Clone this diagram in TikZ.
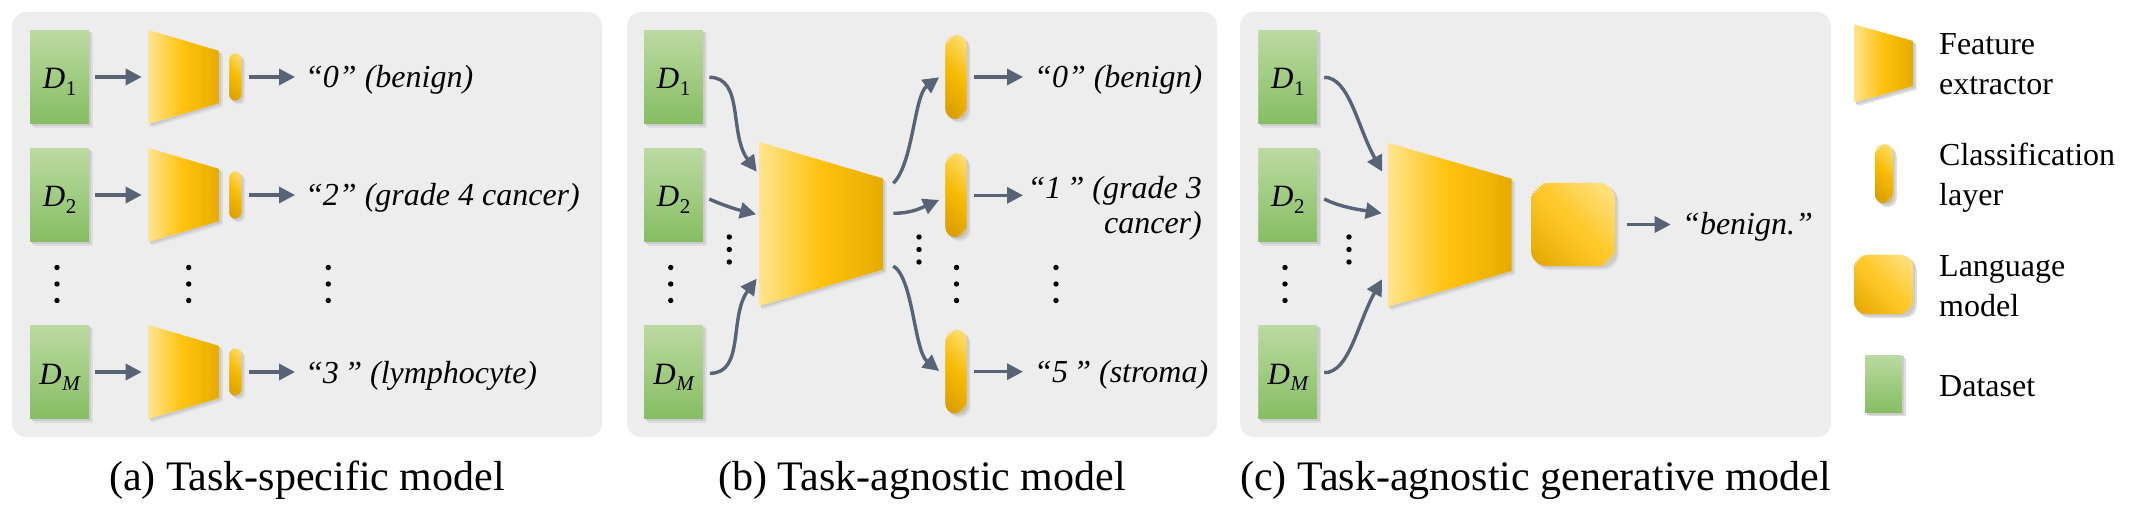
\documentclass[tikz,border=0pt]{standalone}
\usepackage{fontspec}
\setmainfont{Liberation Serif}
\usetikzlibrary{arrows.meta,calc}

\definecolor{panelbg}{RGB}{237,237,237}
\definecolor{gtop}{RGB}{187,218,161}
\definecolor{gbot}{RGB}{135,190,99}
\definecolor{feA}{RGB}{255,228,140}
\definecolor{feB}{RGB}{255,194,14}
\definecolor{feC}{RGB}{231,172,0}
\definecolor{clA}{RGB}{255,226,125}
\definecolor{clB}{RGB}{246,186,0}
\definecolor{clC}{RGB}{214,154,0}
\definecolor{lmA}{RGB}{255,228,140}
\definecolor{lmB}{RGB}{255,200,40}
\definecolor{lmC}{RGB}{228,166,0}
\definecolor{arrc}{RGB}{88,99,118}
\definecolor{shA}{RGB}{203,203,203}
\definecolor{shB}{RGB}{222,222,222}

\pgfdeclarelayer{back}
\pgfdeclarelayer{bg}
\pgfsetlayers{back,bg,main}

% vertical gradient: top colour, bottom colour
\newcommand\vgrad[2]{%
  \foreach \i in {0,...,29}{%
    \pgfmathsetmacro\pp{100*\i/29}%
    \fill[#2!\pp!#1] ($(path picture bounding box.north west)!{\i/30}!(path picture bounding box.south west)$) rectangle ($(path picture bounding box.north east)!{min(1,(\i+1.6)/30)}!(path picture bounding box.south east)$);
  }}
% horizontal 3-stop gradient: left, middle, right
\newcommand\hgrad[3]{%
  \foreach \i in {0,...,19}{%
    \pgfmathsetmacro\pp{100*\i/19}%
    \fill[#2!\pp!#1] ($(path picture bounding box.north west)!{\i/40}!(path picture bounding box.north east)$) rectangle ($(path picture bounding box.south west)!{(\i+1.6)/40}!(path picture bounding box.south east)$);
  }%
  \foreach \i in {0,...,19}{%
    \pgfmathsetmacro\pp{100*\i/19}%
    \fill[#3!\pp!#2] ($(path picture bounding box.north west)!{(\i+20)/40}!(path picture bounding box.north east)$) rectangle ($(path picture bounding box.south west)!{min(1,(\i+21.6)/40)}!(path picture bounding box.south east)$);
  }}
% diagonal 3-stop gradient: light (top right), middle, dark (bottom left), half extent
\newcommand\dgrad[4]{%
  \foreach \i in {0,...,19}{%
    \pgfmathsetmacro\pp{100*\i/19}%
    \pgfmathsetmacro\sa{-#4+#4*\i/20}\pgfmathsetmacro\sb{-#4+#4*(\i+1.6)/20}%
    \pgfmathsetmacro\na{-(\sa)}\pgfmathsetmacro\nb{-(\sb)}%
    \fill[#2!\pp!#3] ($(path picture bounding box.center)+({(\sa-#4)*0.7071},{(\na-#4)*0.7071})$) -- ($(path picture bounding box.center)+({(\sa+#4)*0.7071},{(\na+#4)*0.7071})$) -- ($(path picture bounding box.center)+({(\sb+#4)*0.7071},{(\nb+#4)*0.7071})$) -- ($(path picture bounding box.center)+({(\sb-#4)*0.7071},{(\nb-#4)*0.7071})$) -- cycle;
  }%
  \foreach \i in {0,...,19}{%
    \pgfmathsetmacro\pp{100*\i/19}%
    \pgfmathsetmacro\sa{#4*\i/20}\pgfmathsetmacro\sb{#4*(\i+1.6)/20}%
    \pgfmathsetmacro\na{-(\sa)}\pgfmathsetmacro\nb{-(\sb)}%
    \fill[#1!\pp!#2] ($(path picture bounding box.center)+({(\sa-#4)*0.7071},{(\na-#4)*0.7071})$) -- ($(path picture bounding box.center)+({(\sa+#4)*0.7071},{(\na+#4)*0.7071})$) -- ($(path picture bounding box.center)+({(\sb+#4)*0.7071},{(\nb+#4)*0.7071})$) -- ($(path picture bounding box.center)+({(\sb-#4)*0.7071},{(\nb-#4)*0.7071})$) -- cycle;
  }}

\tikzset{
  panel/.style={fill=panelbg, rounded corners=14pt, draw=none},
  dset/.style={rectangle, minimum width=59pt, minimum height=94pt, inner sep=0pt,
    path picture={\vgrad{gtop}{gbot}}, text height=24pt, text depth=0pt,
    font=\fontsize{31}{31}\selectfont\itshape},
  clf/.style={rectangle, inner sep=0pt, path picture={\dgrad{clA}{clB}{clC}{#1}}},
  lmbox/.style={rectangle, inner sep=0pt, minimum width=84pt, minimum height=83pt, rounded corners=16pt,
    path picture={\dgrad{lmA}{lmB}{lmC}{#1}}},
  lab/.style={font=\fontsize{32}{35}\selectfont\itshape, inner sep=0pt, anchor=base west},
  captext/.style={font=\fontsize{42}{48}\selectfont, inner sep=0pt, anchor=base},
  leg/.style={font=\fontsize{32}{40}\selectfont, inner sep=0pt, anchor=base west},
  arr/.style={draw=arrc, line width=3.4pt, -{Triangle[length=16pt,width=16pt]}},
}

% dataset label D with subscript
\newcommand\dlab[2]{D\kern0.5pt\raisebox{-6.5pt}{\fontsize{21}{21}\selectfont #1#2}}
% soft shadow behind a node: name, corner radius
\newcommand\nshadow[2]{%
  \begin{pgfonlayer}{bg}
    \fill[shB, rounded corners=#2] ($(#1.north west)+(3.6,3.6)$) rectangle ($(#1.south east)+(3.6,3.6)$);
    \fill[shA, rounded corners=#2] ($(#1.north west)+(2,2)$) rectangle ($(#1.south east)+(2,2)$);
  \end{pgfonlayer}}
% feature extractor: name, cx, cy, width, left height, right height
\newcommand\fex[6]{%
  \begin{pgfonlayer}{bg}
    \fill[shB, shift={(3.6,3.6)}] ({#2-#4/2},{#3-#5/2}) -- ({#2+#4/2},{#3-#6/2}) -- ({#2+#4/2},{#3+#6/2}) -- ({#2-#4/2},{#3+#5/2}) -- cycle;
    \fill[shA, shift={(2,2)}] ({#2-#4/2},{#3-#5/2}) -- ({#2+#4/2},{#3-#6/2}) -- ({#2+#4/2},{#3+#6/2}) -- ({#2-#4/2},{#3+#5/2}) -- cycle;
  \end{pgfonlayer}
  \path[path picture={\hgrad{feA}{feB}{feC}}] ({#2-#4/2},{#3-#5/2}) -- ({#2+#4/2},{#3-#6/2}) -- ({#2+#4/2},{#3+#6/2}) -- ({#2-#4/2},{#3+#5/2}) -- cycle;
  \node[inner sep=0pt, outer sep=0pt, minimum width=#4pt, minimum height=#5pt] (#1) at (#2,#3) {};
}
\newcommand\mydots[4]{%
  \foreach \yy in {#2,#3,#4} \fill[black] (#1,\yy) circle[radius=2.7pt];
}

\begin{document}
\begin{tikzpicture}[x=1pt,y=-1pt]
\useasboundingbox (0,0) rectangle (2129,513);
\begin{pgfonlayer}{back}
\fill[white] (0,0) rectangle (2129,513);
\fill[panel] (12,12) rectangle (602,437);
\fill[panel] (627,12) rectangle (1217,437);
\fill[panel] (1240,12) rectangle (1831,437);
\end{pgfonlayer}

% ---------------- (a) ----------------
\node[dset] (a1) at (59.6,77) {\dlab{\upshape}{1}};
\node[dset] (a2) at (59.6,195) {\dlab{\upshape}{2}};
\node[dset] (aM) at (59.6,372) {\dlab{}{M}};
\fex{fa1}{183.8}{77}{71}{94}{52}
\fex{fa2}{183.8}{195}{71}{94}{52}
\fex{faM}{183.8}{372}{71}{94}{52}
\node[clf=22, minimum width=12pt, minimum height=47pt, rounded corners=5.9pt] (ca1) at (235.3,77) {};
\node[clf=22, minimum width=12pt, minimum height=47pt, rounded corners=5.9pt] (ca2) at (235.3,195) {};
\node[clf=22, minimum width=12pt, minimum height=47pt, rounded corners=5.9pt] (caM) at (235.3,372) {};
\node[lab] (ta1) at (305,88) {``0'' (benign)};
\node[lab] (ta2) at (305,206) {``2'' (grade 4 cancer)};
\node[lab] (taM) at (305,383) {``3\,'' (lymphocyte)};
\foreach \r in {1,2,M}{
  \draw[arr, shorten <=5.7pt, shorten >=6.6pt] (a\r.east) -- (fa\r.west);
  \draw[arr, shorten <=7pt, shorten >=10pt] (ca\r.east) -- (ca\r.east -| ta1.west);
}
\mydots{57}{267.5}{284}{300.5}
\mydots{188.7}{267.5}{284}{300.5}
\mydots{328.3}{267.5}{284}{300.5}

% ---------------- (b) ----------------
\node[dset] (b1) at (673.6,77) {\dlab{\upshape}{1}};
\node[dset] (b2) at (673.6,195) {\dlab{\upshape}{2}};
\node[dset] (bM) at (673.6,372) {\dlab{}{M}};
\fex{fb}{821}{224}{124}{164}{91}
\node[clf=37, minimum width=21.4pt, minimum height=84pt, rounded corners=10.5pt] (cb1) at (956,77) {};
\node[clf=37, minimum width=21.4pt, minimum height=84pt, rounded corners=10.5pt] (cb2) at (956,195.3) {};
\node[clf=37, minimum width=21.4pt, minimum height=84pt, rounded corners=10.5pt] (cbM) at (956,371.7) {};
\node[lab] (tb1) at (1034,88) {``0'' (benign)};
\node[lab, anchor=base east] (tb2) at (1202,199) {``1\,'' (grade 3};
\node[lab, anchor=base east] (tb2b) at (1202,234) {cancer)};
\node[lab] (tbM) at (1034,382) {``5\,'' (stroma)};
\foreach \r in {1,2,M}{
  \draw[arr, shorten <=7.3pt, shorten >=11pt] (cb\r.east) -- (cb\r.east -| tb1.west);
}
\draw[arr] ($(b1.east)+(6,0.3)$) .. controls +(35,0) and +(-28,-38) .. ($(fb.west)+(-2.3,-52.3)$);
\draw[arr] ($(b2.east)+(6,4)$) .. controls +(15,7) and +(-16,-4) .. ($(fb.west)+(-3,-9.7)$);
\draw[arr] ($(bM.east)+(6.7,1.3)$) .. controls +(35,0) and +(-28,38) .. ($(fb.west)+(-2.3,54.7)$);
\draw[arr] ($(fb.east)+(10.3,-40.7)$) .. controls +(20,-20) and +(-25,18) .. ($(cb1.west)+(-6,0.3)$);
\draw[arr] ($(fb.east)+(10.3,-10.7)$) .. controls +(18,0) and +(-18,8) .. ($(cb2.west)+(-6,4.7)$);
\draw[arr] ($(fb.east)+(10.3,42)$) .. controls +(20,12) and +(-25,-20) .. ($(cbM.west)+(-6,-0.7)$);
\mydots{670.7}{267.5}{284}{300.5}
\mydots{729.3}{237}{249.5}{262}
\mydots{919}{237}{249.5}{262}
\mydots{956.5}{267.5}{284}{300.5}
\mydots{1056}{267.5}{284}{300.5}

% ---------------- (c) ----------------
\node[dset] (c1) at (1287.8,77) {\dlab{\upshape}{1}};
\node[dset] (c2) at (1287.8,195) {\dlab{\upshape}{2}};
\node[dset] (cM) at (1287.8,372) {\dlab{}{M}};
\fex{fc}{1449.7}{224.8}{124}{164}{92}
\node[lmbox=59] (lmc) at (1573,224.5) {};
\node[lab] (tc) at (1682,235) {``benign.''};
\draw[arr, shorten <=11.7pt, shorten >=11.3pt] (lmc.east) -- (lmc.east -| tc.west);
\draw[arr] ($(c1.east)+(6.7,0.3)$) .. controls +(25,0) and +(-25,-45) .. ($(fc.west)+(-5.4,-53.1)$);
\draw[arr] ($(c2.east)+(6.7,4)$) .. controls +(18,9) and +(-18,-3) .. ($(fc.west)+(-6,-11.5)$);
\draw[arr] ($(cM.east)+(6.7,0.7)$) .. controls +(25,0) and +(-25,45) .. ($(fc.west)+(-5.7,54.5)$);
\mydots{1285}{267.5}{284}{300.5}
\mydots{1349}{237}{249.5}{262}

% ---------------- legend ----------------
\fex{lfe}{1883.5}{63.5}{59}{78}{45}
\node[clf=27, minimum width=18pt, minimum height=59pt, rounded corners=8.9pt] (lcl) at (1884,173.7) {};
\node[lmbox=42, minimum width=59pt, minimum height=59pt, rounded corners=12pt] (llm) at (1883.5,284.5) {};
\node[dset, minimum width=37pt, minimum height=58pt] (lds) at (1883.7,383.5) {};
\node[leg] (l1) at (1939,55) {Feature};
\node[leg] (l1b) at (1939,95) {extractor};
\node[leg] (l2) at (1939,165.7) {Classification};
\node[leg] (l2b) at (1939,205.7) {layer};
\node[leg] (l3) at (1939,276.7) {Language};
\node[leg] (l3b) at (1939,316.7) {model};
\node[leg] (l4) at (1939,396) {Dataset};

% shadows of the nodes
\foreach \n in {a1,a2,aM,b1,b2,bM,c1,c2,cM,lds} {\nshadow{\n}{0pt}}
\foreach \n in {ca1,ca2,caM} {\nshadow{\n}{5.9pt}}
\foreach \n in {cb1,cb2,cbM} {\nshadow{\n}{10.5pt}}
\nshadow{lcl}{8.9pt}
\nshadow{lmc}{16pt}
\nshadow{llm}{12pt}

% captions
\node[captext] (capa) at (307,490) {(a) Task-specific model};
\node[captext] (capb) at (922,490) {(b) Task-agnostic model};
\node[captext] (capc) at (1535.5,490) {(c) Task-agnostic generative model};
\end{tikzpicture}
\end{document}
